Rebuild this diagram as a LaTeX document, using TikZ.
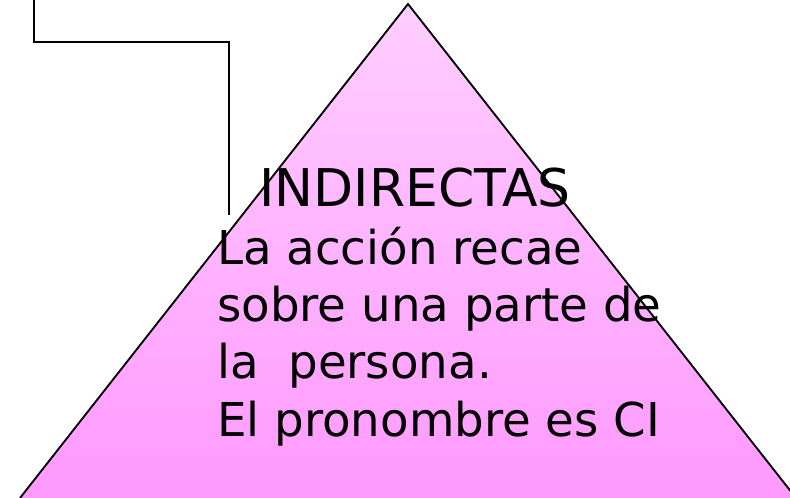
\documentclass[tikz,border=0pt]{standalone}
\usepackage{fontspec}
\setmainfont{DejaVu Sans}
\definecolor{pyrtop}{RGB}{255, 206, 255}
\definecolor{pyrbottom}{RGB}{255, 153, 255}

\begin{document}
\begin{tikzpicture}[
    x=0.75pt, y=-0.75pt,
    % estilos de los textos
    titletext/.style={anchor=base, inner sep=0pt, font=\fontsize{39}{44}\selectfont},
    bodytext/.style={anchor=base west, inner sep=0pt, font=\fontsize{35}{43}\selectfont},
    link/.style={-, line width=1.5pt, draw=black}
]
\useasboundingbox (0,0) rectangle (790,498);

% pirámide
\coordinate (apex)  at (408,4);
\coordinate (bleft) at (20,498);
\coordinate (bright) at (796,498);
\shade[top color=pyrtop, bottom color=pyrbottom] (apex) -- (bleft) -- (bright) -- cycle;
\draw[line width=1.4pt, line join=miter] (bleft) -- (apex) -- (bright);

% línea que baja desde arriba
\coordinate (linkstart) at (34,0);
\coordinate (linkend)   at (229,215);
\draw[link] (linkstart) |- (linkend |- 0,42) -- (linkend);

% textos
\node[titletext] (title) at (415,207) {INDIRECTAS};
\node[bodytext] (line1) at (217,265) {La acción recae};
\node[bodytext] (line2) at (217,322) {sobre una parte de};
\node[bodytext] (line3) at (217,379) {la\ \ persona.};
\node[bodytext] (line4) at (217,437) {El pronombre es CI};

\end{tikzpicture}
\end{document}
